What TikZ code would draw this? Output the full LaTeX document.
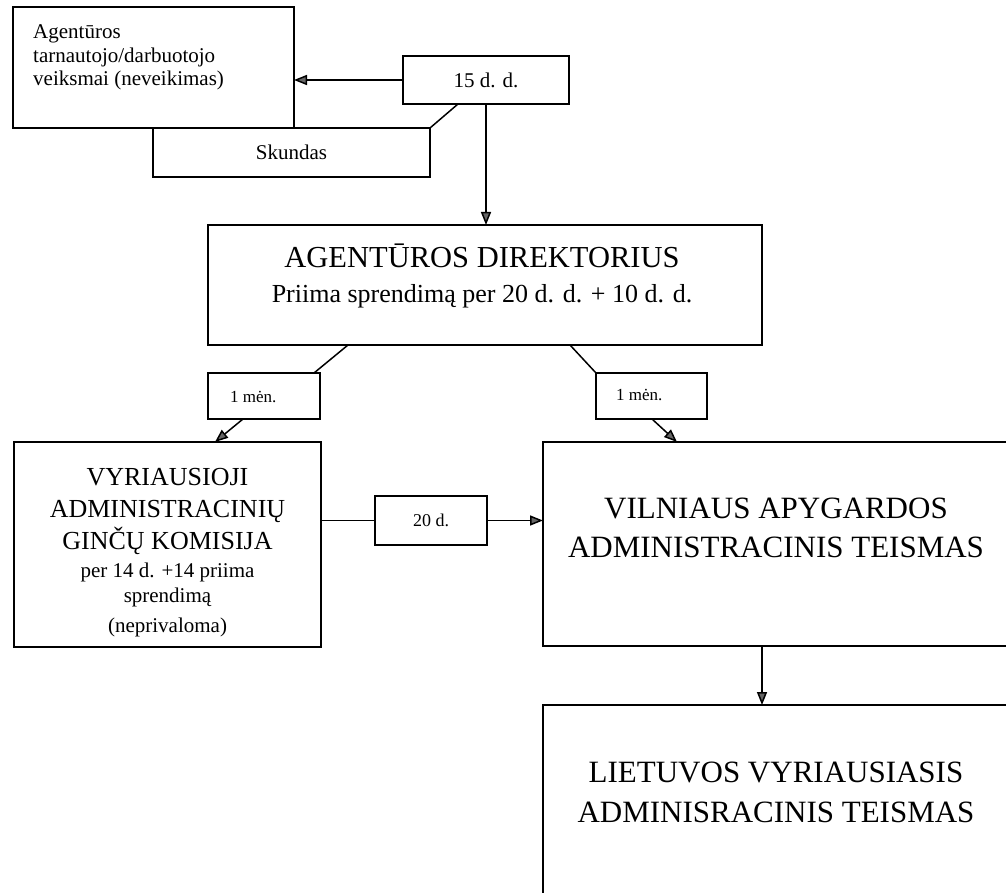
\documentclass[tikz,border=0pt]{standalone}
\usepackage{fontspec}
\setmainfont{Liberation Serif}
\usetikzlibrary{arrows.meta,calc}
\newcommand\fsz[1]{\fontsize{#1}{#1}\selectfont}
\begin{document}
\begin{tikzpicture}[x=1pt,y=-1pt,
  box/.style={draw, line width=2.2pt, inner sep=0pt, outer sep=0pt, anchor=north west},
  conn/.style={line width=1.5pt},
  arr/.style={conn, -{Triangle[length=13pt,width=10pt,fill=black!60]}},
  t/.style={inner sep=0pt, anchor=base}]
\useasboundingbox (0,0) rectangle (1006,893);
% boxes
\node[box, minimum width=281pt, minimum height=121pt] (A) at (13,7) {};
\node[box, minimum width=166pt, minimum height=48pt, font=\fsz{21}] (dd) at (403,56) {15 d. d.};
\node[box, minimum width=277pt, minimum height=49pt, font=\fsz{21}] (Sk) at (153,128) {Skundas};
\node[box, minimum width=554pt, minimum height=120pt] (Dir) at (208,225) {};
\node[box, minimum width=112pt, minimum height=46pt] (m1) at (208,373) {};
\node[box, minimum width=111pt, minimum height=46pt] (m2) at (596,373) {};
\node[box, minimum width=307pt, minimum height=205pt] (V) at (14,442) {};
\node[box, minimum width=112pt, minimum height=49pt, font=\fsz{18}] (tw) at (375,496) {20 d.};
\node[box, minimum width=466pt, minimum height=204pt] (Vil) at (543,442) {};
\node[box, minimum width=466pt, minimum height=200pt] (L) at (543,705) {};
% texts
\node[t, anchor=base west, font=\fsz{21}] (a1) at (33,39) {Agentūros};
\node[t, anchor=base west, font=\fsz{21}] (a2) at (33,63) {tarnautojo/darbuotojo};
\node[t, anchor=base west, font=\fsz{21}] (a3) at (33,86) {veiksmai (neveikimas)};
\node[t, font=\fsz{30.5}] (d1) at (482,268) {AGENTŪROS DIREKTORIUS};
\node[t, font=\fsz{26}] (d2) at (482,302) {Priima sprendimą per 20 d. d. + 10 d. d.};
\node[t, anchor=base west, font=\fsz{17}] (m1t) at (230,402) {1 mėn.};
\node[t, anchor=base west, font=\fsz{17}] (m2t) at (616,400) {1 mėn.};
\node[t, font=\fsz{26}] (v1) at (167.5,485) {VYRIAUSIOJI};
\node[t, font=\fsz{26}] (v2) at (167.5,517) {ADMINISTRACINIŲ};
\node[t, font=\fsz{26}] (v3) at (167.5,549) {GINČŲ KOMISIJA};
\node[t, font=\fsz{21}] (v4) at (167.5,577) {per 14 d. +14 priima};
\node[t, font=\fsz{21}] (v5) at (167.5,602) {sprendimą};
\node[t, font=\fsz{21}] (v6) at (167.5,632) {(neprivaloma)};
\node[t, font=\fsz{31}] (w1) at (776,518) {VILNIAUS APYGARDOS};
\node[t, font=\fsz{31}] (w2) at (776,557) {ADMINISTRACINIS TEISMAS};
\node[t, font=\fsz{31}] (l1) at (776,782) {LIETUVOS VYRIAUSIASIS};
\node[t, font=\fsz{31}] (l2) at (776,822) {ADMINISRACINIS TEISMAS};
% connectors
\draw[arr] (dd.west) -- (dd.west -| A.east);
\draw[conn] (Sk.north east) -- ([xshift=55pt]dd.south west);
\draw[arr] (dd.south) -- (dd.south |- Dir.north);
\draw[conn] ([xshift=140pt]Dir.south west) -- ([xshift=-6pt]m1.north east);
\draw[conn] ([xshift=362pt]Dir.south west) -- (m2.north west);
\draw[arr] ([xshift=35pt]m1.south west) -- ([xshift=201pt]V.north west);
\draw[arr] ([xshift=56pt]m2.south west) -- ([xshift=134pt]Vil.north west);
\draw[conn] (tw.west -| V.east) -- (tw.west);
\draw[arr] (tw.east) -- (tw.east -| Vil.west);
\draw[arr] ([xshift=219pt]Vil.south west) -- ([xshift=219pt]L.north west);
\end{tikzpicture}
\end{document}
